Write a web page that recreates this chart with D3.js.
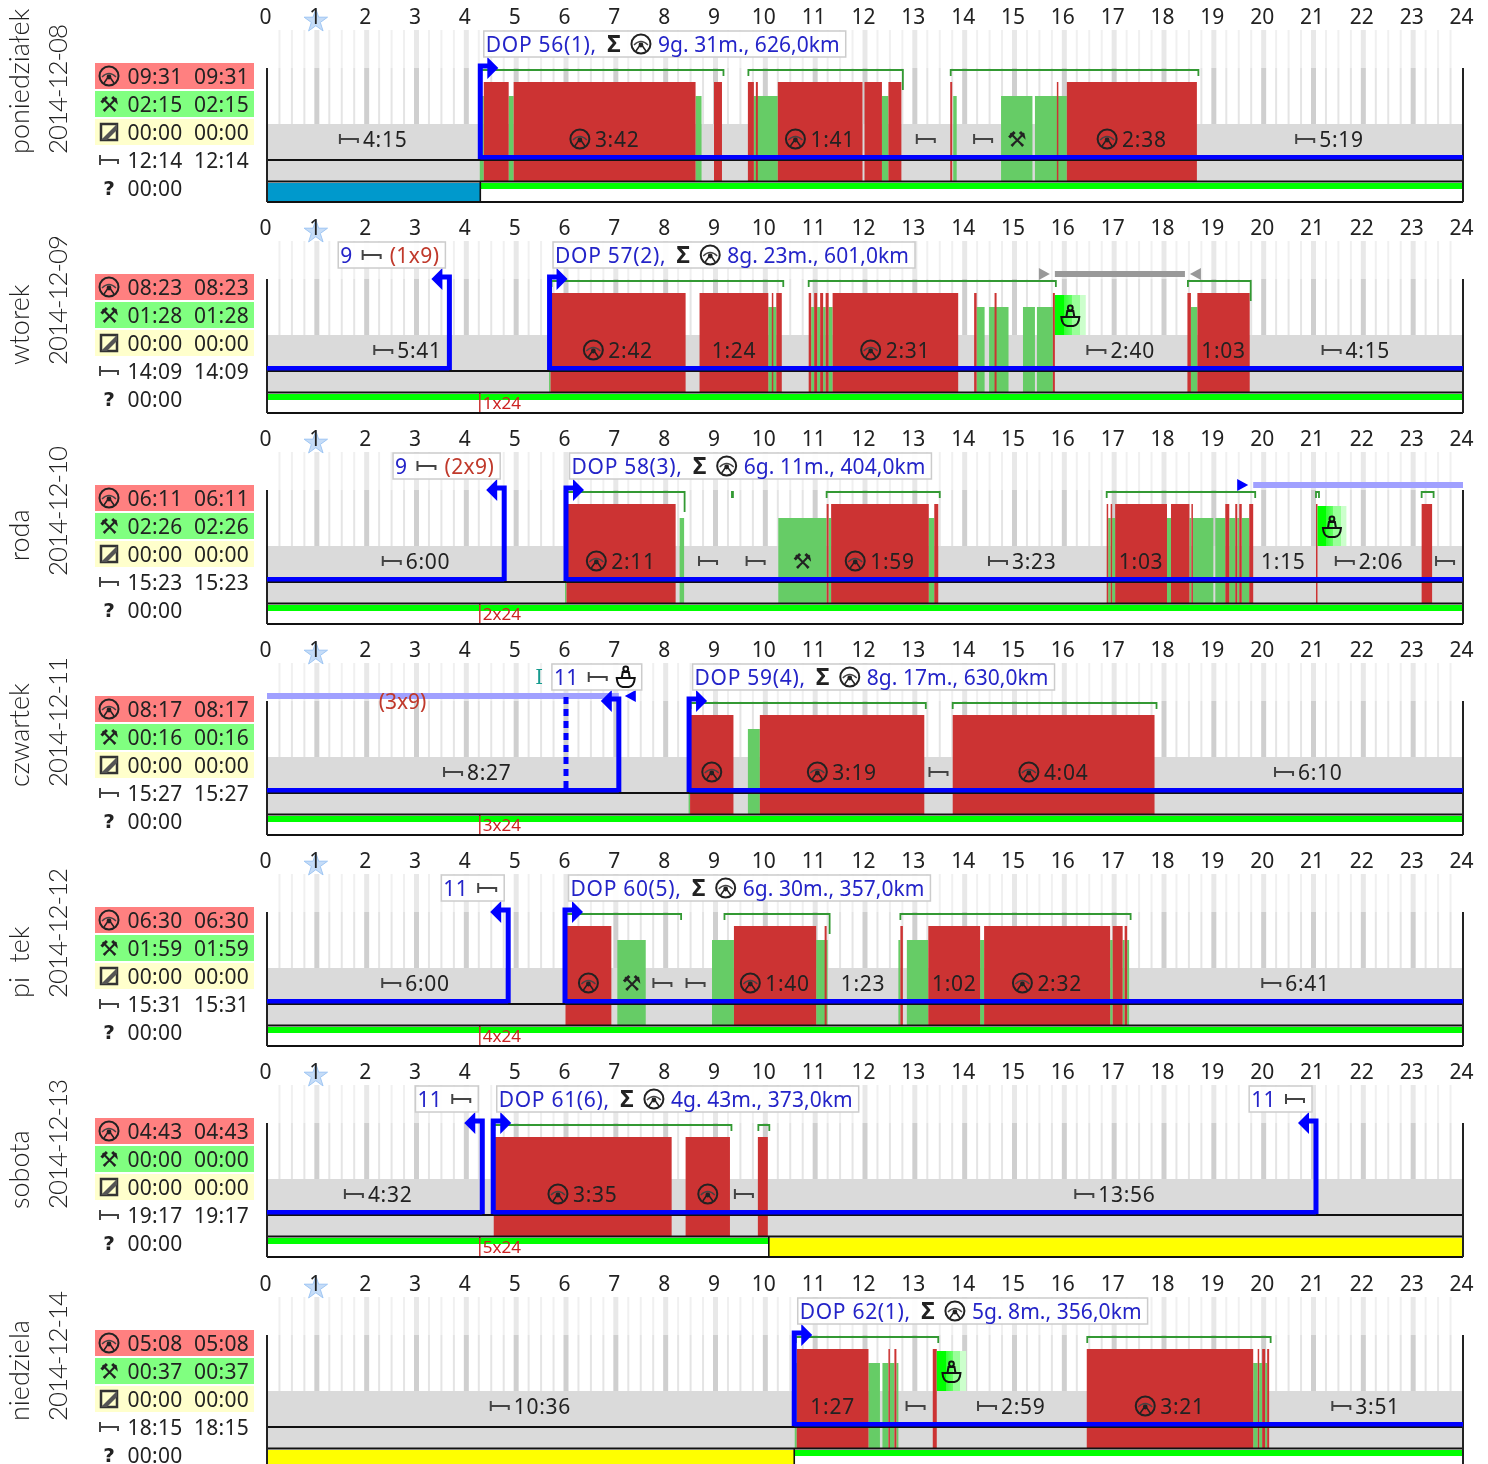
<!DOCTYPE html>
<html>
<head>
<meta charset="utf-8">
<script src="https://cdn.jsdelivr.net/npm/d3@7"></script>
<style>
html, body { margin: 0; padding: 0; background: #fff; overflow: hidden; }
svg { display: block; filter: blur(0.4px); }
text { font-family: "Noto Sans", sans-serif; font-size: 21px; fill: #222; }
</style>
</head>
<body>
<svg id="chart" width="1488" height="1464"></svg>
<script>
var dayNames = ["poniedziałek", "wtorek", "\u00a0\u00a0roda", "czwartek", "pi\u00a0\u00a0tek", "sobota", "niedziela"];
var dayDates = ["2014-12-08", "2014-12-09", "2014-12-10", "2014-12-11", "2014-12-12", "2014-12-13", "2014-12-14"];
var hourLabels = d3.range(0, 25);

// totals on the left: drive, work, other, rest, unknown
var driveTotals = ["09:31", "08:23", "06:11", "08:17", "06:30", "04:43", "05:08"];
var workTotals = ["02:15", "01:28", "02:26", "00:16", "01:59", "00:00", "00:37"];
var otherTotals = ["00:00", "00:00", "00:00", "00:00", "00:00", "00:00", "00:00"];
var restTotals = ["12:14", "14:09", "15:23", "15:27", "15:31", "19:17", "18:15"];
var unknownTotals = ["00:00", "00:00", "00:00", "00:00", "00:00", "00:00", "00:00"];

// all spans in hours of the day
var driveSpans = [
    [[4.35,4.85],[4.95,8.60],[8.97,9.13],[9.65,9.77],[9.81,9.85],[10.25,11.95],[11.99,12.34],[12.47,12.73],[13.71,13.75],[15.85,15.88],[16.05,18.66]],
    [[5.69,8.40],[8.68,10.06],[10.13,10.16],[10.22,10.33],[10.87,10.92],[10.98,11.04],[11.10,11.16],[11.21,11.27],[11.35,13.87],[14.19,14.24],[14.60,14.64],[15.77,15.81],[18.47,18.54],[18.67,19.72]],
    [[6.01,8.20],[11.23,11.27],[11.32,13.28],[13.39,13.47],[16.85,16.88],[16.93,16.96],[17.02,18.06],[18.14,18.51],[18.55,18.58],[19.23,19.31],[19.43,19.47],[19.51,19.56],[19.71,19.79],[21.05,21.08],[23.17,23.38]],
    [[8.49,9.36],[9.89,13.19],[13.76,17.81]],
    [[5.99,6.91],[9.37,11.02],[11.19,11.23],[12.71,12.76],[13.27,14.31],[14.39,16.92],[16.97,17.17],[17.21,17.26]],
    [[4.55,8.12],[8.40,9.29],[9.85,10.05]],
    [[10.63,12.07],[12.47,12.50],[12.59,12.63],[13.36,13.44],[16.45,19.79],[19.88,19.91],[19.97,20.03],[20.07,20.11]]
];
var workSpans = [
    [[4.27,4.35],[4.85,4.95],[8.60,8.72],[9.77,10.25],[12.34,12.47],[13.77,13.84],[14.73,15.36],[15.41,16.05]],
    [[5.66,5.69],[10.06,10.22],[10.92,10.98],[11.04,11.10],[11.16,11.21],[11.27,11.35],[14.24,14.40],[14.49,14.88],[15.17,15.41],[15.45,15.77],[18.54,18.67]],
    [[5.98,6.01],[8.28,8.37],[10.26,11.23],[11.27,11.32],[13.28,13.39],[16.88,16.93],[16.96,17.02],[18.06,18.14],[18.51,18.55],[18.58,18.99],[19.03,19.23],[19.31,19.43],[19.47,19.51],[19.56,19.71]],
    [[8.46,8.49],[9.65,9.89]],
    [[7.03,7.60],[8.93,9.37],[11.02,11.25],[12.67,12.71],[12.84,13.27],[14.31,14.39],[16.92,16.97],[17.17,17.21],[17.26,17.30]],
    [],
    [[10.59,10.63],[12.07,12.30],[12.35,12.47],[12.50,12.59],[12.63,12.67],[19.79,19.88],[19.91,19.97],[20.03,20.07]]
];
// brackets: start, end, 1 when the right leg runs long
var brackets = [
    [[4.30,9.16,0],[9.66,12.76,1],[13.72,18.69,0]],
    [[5.71,10.36,0],[10.87,15.83,0],[18.48,19.74,1]],
    [[6.00,8.38,1],[9.33,9.35,0],[11.23,13.50,0],[16.85,19.83,0],[21.05,21.11,0],[23.17,23.41,0]],
    [[8.50,13.22,0],[13.76,17.85,0]],
    [[5.99,8.31,0],[9.18,11.29,1],[12.71,17.33,0]],
    [[4.56,9.32,0],[9.86,10.08,0]],
    [[10.61,13.47,0],[16.46,20.14,0]]
];
var mealBreaks = [[], [[15.81,16.43]], [[21.08,21.66]], [], [], [], [[13.44,14.03]]];

// span labels: start, end, icon, text
var spanLabels = [
    [[0,4.28,"bed","4:15"],[4.95,8.60,"wheel","3:42"],[10.25,11.95,"wheel","1:41"],[12.73,13.71,"bed",""],[13.84,14.90,"bed",""],[14.73,15.36,"hammer",""],[16.05,18.66,"wheel","2:38"],[18.66,24,"bed","5:19"]],
    [[0,5.66,"bed","5:41"],[5.69,8.40,"wheel","2:42"],[8.68,10.06,"","1:24"],[11.35,13.87,"wheel","2:31"],[15.81,18.47,"bed","2:40"],[18.67,19.72,"","1:03"],[19.72,24,"bed","4:15"]],
    [[0,6.00,"bed","6:00"],[6.01,8.20,"wheel","2:11"],[8.37,9.33,"bed",""],[9.35,10.26,"bed",""],[10.26,11.23,"hammer",""],[11.32,13.28,"wheel","1:59"],[13.47,16.86,"bed","3:23"],[17.02,18.06,"","1:03"],[19.79,21.0,"","1:15"],[21.08,23.17,"bed","2:06"],[23.38,23.9,"bed",""]],
    [[0,8.46,"bed","8:27"],[8.49,9.36,"wheel",""],[9.89,13.19,"wheel","3:19"],[13.19,13.76,"bed",""],[13.76,17.81,"wheel","4:04"],[17.81,24,"bed","6:10"]],
    [[0,5.98,"bed","6:00"],[5.99,6.91,"wheel",""],[7.03,7.60,"hammer",""],[7.60,8.27,"bed",""],[8.27,8.93,"bed",""],[9.37,11.02,"wheel","1:40"],[11.25,12.67,"","1:23"],[13.27,14.31,"","1:02"],[14.39,16.92,"wheel","2:32"],[17.30,24,"bed","6:41"]],
    [[0,4.48,"bed","4:32"],[4.55,8.12,"wheel","3:35"],[8.40,9.29,"wheel",""],[9.29,9.85,"bed",""],[10.05,24,"bed","13:56"]],
    [[0,10.59,"bed","10:36"],[10.63,12.07,"","1:27"],[12.67,13.36,"bed",""],[13.44,16.45,"bed","2:59"],[16.45,19.79,"wheel","3:21"],[20.11,24,"bed","3:51"]]
];

// heavy blue line
var blueRuns = [
    [[4.28,24]],
    [[0,3.66],[5.67,24]],
    [[0,4.76],[6.00,24]],
    [[0,7.06],[8.47,24]],
    [[0,4.84],[5.98,24]],
    [[0,4.32],[4.54,21.05]],
    [[10.58,24]]
];
var shiftStarts = [[4.28],[5.67],[6.00],[8.47],[5.98],[4.54],[10.58]];
var shiftEnds = [[],[3.66],[4.76],[7.06],[4.84],[4.32,21.05],[]];

var dopTexts = ["DOP 56(1),", "DOP 57(2),", "DOP 58(3),", "DOP 59(4),", "DOP 60(5),", "DOP 61(6),", "DOP 62(1),"];
var dopTotals = ["9g. 31m., 626,0km", "8g. 23m., 601,0km", "6g. 11m., 404,0km", "8g. 17m., 630,0km", "6g. 30m., 357,0km", "4g. 43m., 373,0km", "5g. 8m., 356,0km"];
// rest boxes: hour of right edge, hours, counter, bell
var restBoxes = [
    [],
    [[3.66,"9","(1x9)",0]],
    [[4.76,"9","(2x9)",0]],
    [[7.60,"11","",1]],
    [[4.84,"11","",0]],
    [[4.32,"11","",0],[21.05,"11","",0]],
    []
];
var paleRuns = [[], [], [[19.79,24]], [[0,7.06]], [], [], []];
var greyRuns = [[], [[15.81,18.42]], [], [], [], [], []];
var weekCounters = ["", "1x24", "2x24", "3x24", "4x24", "5x24", ""];
var greenStrip = [[[4.28,24]], [[0,24]], [[0,24]], [[0,24]], [[0,24]], [[0,10.07]], [[10.58,24]]];
var fillStrip = [[[0,4.28,"#0099cc"]], [], [], [], [], [[10.07,24,"#ffff00"]], [[0,10.58,"#ffff00"]]];

var svg = d3.select("#chart");
var x = d3.scaleLinear().domain([0, 24]).range([267, 1463]);
var panelY = d3.scaleLinear().domain([0, 6]).range([0, 1267]);

var defs = svg.append("defs");
var grad = defs.append("linearGradient").attr("id", "meal");
[[0,"#00ff00"],[0.3,"#00ff00"],[0.3,"#33ff33"],[0.55,"#66ff66"],[0.55,"#99ff99"],[0.8,"#99ff99"],[0.8,"#ccffcc"],[1,"#ccffcc"]].forEach(function(s) {
    grad.append("stop").attr("offset", s[0]).attr("stop-color", s[1]);
});

function drawIcon(g, name, cx, cy) {
    var ic = g.append("g").attr("transform", "translate(" + cx + "," + cy + ")");
    if (name == "wheel") {
        ic.append("circle").attr("r", 9.5).attr("fill", "none").attr("stroke", "#222").attr("stroke-width", 2);
        ic.append("path").attr("d", "M-7,1 Q0,-6 7,1").attr("fill", "none").attr("stroke", "#444").attr("stroke-width", 1.4);
        ic.append("circle").attr("cy", 1).attr("r", 2.4).attr("fill", "#222");
        ic.append("path").attr("d", "M-1.5,2 L-5,7 M1.5,2 L5,7").attr("stroke", "#222").attr("stroke-width", 1.5);
    } else if (name == "bed") {
        ic.append("path").attr("d", "M-9,-5 V5 M-9,0 H9 V4").attr("fill", "none").attr("stroke", "#444").attr("stroke-width", 2);
    } else if (name == "hammer") {
        ic.append("text").attr("text-anchor", "middle").attr("dy", "0.38em")
            .style("font-family", "DejaVu Sans").style("font-weight", "bold").style("font-size", "22px").text("\u2692");
    } else if (name == "box") {
        ic.append("rect").attr("x", -8).attr("y", -8).attr("width", 16).attr("height", 16)
            .attr("fill", "none").attr("stroke", "#333").attr("stroke-width", 2.5);
        ic.append("path").attr("d", "M-8,8 L8,-8 V-2 L-2,8 Z").attr("fill", "#555");
    } else if (name == "sigma") {
        ic.append("text").attr("text-anchor", "middle").attr("dy", "0.36em")
            .style("font-weight", "bold").style("font-size", "23px").text("\u03a3");
    } else if (name == "question") {
        ic.append("text").attr("text-anchor", "middle").attr("dy", "0.36em")
            .style("font-family", "DejaVu Sans").style("font-weight", "bold").style("font-size", "20px").text("?");
    } else if (name == "bell") {
        ic.append("circle").attr("cy", -8).attr("r", 2.4).attr("fill", "none").attr("stroke", "#111").attr("stroke-width", 2);
        ic.append("path").attr("d", "M-3,-5 L-4,1 H4 L3,-5 Z").attr("fill", "none").attr("stroke", "#111").attr("stroke-width", 2);
        ic.append("path").attr("d", "M-9,1 H9 Q8.5,9 3,10 H-3 Q-8.5,9 -9,1 Z").attr("fill", "none").attr("stroke", "#111").attr("stroke-width", 2);
    }
}

var iconWidths = {wheel: 20, bed: 18, hammer: 20, box: 18, sigma: 18, bell: 20};

// lays out text and icons in a row, returns the width
function tokenRow(g, tokens) {
    var cur = 0;
    tokens.forEach(function(t) {
        if (t.icon) {
            var w = iconWidths[t.icon];
            drawIcon(g, t.icon, cur + w / 2, 0);
            cur += w + (t.gap || 7);
        } else {
            var el = g.append("text").attr("x", cur).attr("dy", "0.38em")
                .style("fill", t.fill).style("letter-spacing", (t.spread || 0.4) + "px").text(t.text);
            cur += el.node().getComputedTextLength() + (t.gap || 7);
        }
    });
    return cur - 7;
}

// row inside a white box; anchored at its left or right edge
function boxedRow(g, xEdge, yMid, tokens, anchorRight) {
    var box = g.append("g");
    var rect = box.append("rect");
    var inner = box.append("g").attr("transform", "translate(2,0)");
    var w = tokenRow(inner, tokens) + 8;
    rect.attr("x", 0).attr("y", -13).attr("width", w).attr("height", 26)
        .attr("fill", "#fff").attr("fill-opacity", 0.9).attr("stroke", "#ccc").attr("stroke-width", 1.5);
    box.attr("transform", "translate(" + (anchorRight ? xEdge - w : xEdge) + "," + yMid + ")");
}

function spanRects(g, spans, top, bottom, fill) {
    g.selectAll(null).data(spans).enter().append("rect")
        .attr("x", function(d) { return x(d[0]); })
        .attr("width", function(d) { return x(d[1]) - x(d[0]); })
        .attr("y", top)
        .attr("height", bottom - top)
        .attr("fill", fill);
}

function drawLegend(g, i) {
    var rows = [
        {icon: "wheel", bg: "#ff8080", vals: [driveTotals[i], driveTotals[i]]},
        {icon: "hammer", bg: "#80ff80", vals: [workTotals[i], workTotals[i]]},
        {icon: "box", bg: "#ffffcc", vals: [otherTotals[i], otherTotals[i]]},
        {icon: "bed", vals: [restTotals[i], restTotals[i]]},
        {icon: "question", vals: [unknownTotals[i]]}
    ];
    rows.forEach(function(r, k) {
        var cy = 76 + k * 28;
        if (r.bg) {
            g.append("rect").attr("x", 95).attr("y", cy - 13).attr("width", 159).attr("height", 26).attr("fill", r.bg);
        }
        drawIcon(g, r.icon, 109, cy);
        r.vals.forEach(function(v, n) {
            g.append("text").attr("x", 127.5 + n * 66.5).attr("y", cy).attr("dy", "0.38em")
                .style("letter-spacing", "0.3px").text(v);
        });
    });
}

function drawDay(i) {
    var g = svg.append("g").attr("transform", "translate(0," + Math.floor(panelY(i)) + ")");

    // day and date
    g.append("text").attr("transform", "translate(29,154) rotate(-90)")
        .style("font-family", "Lato, sans-serif").style("font-weight", 300).style("font-size", "27px").text(dayNames[i]);
    g.append("text").attr("transform", "translate(67,154) rotate(-90)")
        .style("font-family", "Lato, sans-serif").style("font-weight", 300).style("font-size", "26px")
        .style("letter-spacing", "-1.1px").text(dayDates[i]);

    drawLegend(g, i);

    // quarter hour ticks, upper part paler
    var quarters = d3.range(0, 24.01, 0.25).filter(function(h) { return h > 0 && h < 24; });
    g.selectAll(null).data(quarters).enter().append("line")
        .attr("x1", function(d) { return x(d); })
        .attr("x2", function(d) { return x(d); })
        .attr("y1", 30).attr("y2", 68)
        .attr("stroke", function(d) { return d % 1 == 0 ? "#e8e8e8" : "#f0f0f0"; })
        .attr("stroke-width", function(d) { return d % 1 == 0 ? 5 : 2; });
    g.selectAll(null).data(quarters).enter().append("line")
        .attr("x1", function(d) { return x(d); })
        .attr("x2", function(d) { return x(d); })
        .attr("y1", 68).attr("y2", 125)
        .attr("stroke", function(d) { return d % 1 == 0 ? "#cfcfcf" : "#e4e4e4"; })
        .attr("stroke-width", function(d) { return d % 1 == 0 ? 5 : 2; });

    // hour axis
    g.append("path").attr("d", d3.symbol().type(d3.symbolStar).size(170)())
        .attr("transform", "translate(" + (x(1) - 1) + ",21)")
        .attr("fill", "#c5dcf7").attr("stroke", "#9fc6f3");
    var axis = g.append("g").attr("transform", "translate(-2,24)")
        .call(d3.axisTop(x).tickValues(hourLabels).tickFormat(d3.format("d")).tickSize(0).tickPadding(0));
    axis.select(".domain").remove();
    axis.selectAll("text").style("font-size", "21px");

    g.append("rect").attr("x", x(0)).attr("y", 124).attr("width", x(24) - x(0)).attr("height", 57).attr("fill", "#dadada");

    spanRects(g, workSpans[i], 96, 181, "#66cc66");
    spanRects(g, driveSpans[i], 82, 181, "#cc3333");
    spanRects(g, mealBreaks[i], 84, 124, "url(#meal)");

    // bottom strip
    spanRects(g, greenStrip[i], 183, 189, "#00ff00");
    fillStrip[i].forEach(function(d) {
        spanRects(g, [d], 183, 201, d[2]);
        g.selectAll(null).data(d.slice(0, 2).filter(function(h) { return h > 0 && h < 24; })).enter().append("line")
            .attr("x1", function(h) { return x(h); }).attr("x2", function(h) { return x(h); })
            .attr("y1", 181).attr("y2", 202)
            .attr("stroke", "#111").attr("stroke-width", 1.6);
    });
    if (weekCounters[i]) {
        g.append("line").attr("x1", x(4.27)).attr("x2", x(4.27)).attr("y1", 182).attr("y2", 201)
            .attr("stroke", "#c33").attr("stroke-width", 1.5);
        g.append("text").attr("x", x(4.27) + 3).attr("y", 192).attr("dy", "0.35em")
            .style("font-size", "17px").style("fill", "#c22").text(weekCounters[i]);
    }

    // frame
    g.selectAll(null).data([160, 181.5, 202]).enter().append("line")
        .attr("x1", x(0)).attr("x2", x(24)).attr("y1", function(d) { return d; }).attr("y2", function(d) { return d; })
        .attr("stroke", "#111").attr("stroke-width", 2);
    g.selectAll(null).data([0, 24]).enter().append("line")
        .attr("x1", function(d) { return x(d); }).attr("x2", function(d) { return x(d); })
        .attr("y1", 68).attr("y2", 202)
        .attr("stroke", "#222").attr("stroke-width", 2);

    // brackets
    g.selectAll(null).data(brackets[i]).enter().append("path")
        .attr("d", function(d) {
            return "M" + x(d[0]) + ",76 V70 H" + x(d[1]) + " V" + (d[2] ? 90 : 76);
        })
        .attr("fill", "none").attr("stroke", "#339933").attr("stroke-width", 1.8);

    // span labels
    spanLabels[i].forEach(function(d) {
        var lab = g.append("g");
        var tokens = [];
        if (d[2]) tokens.push({icon: d[2], gap: 5});
        if (d[3]) tokens.push({text: d[3], fill: "#222", spread: 0.7});
        var w = tokenRow(lab, tokens);
        if (!d[3]) w = iconWidths[d[2]];
        lab.attr("transform", "translate(" + (x((d[0] + d[1]) / 2) - w / 2) + ",139)");
    });

    mealBreaks[i].forEach(function(d) {
        drawIcon(g, "bell", x((d[0] + d[1]) / 2), 105);
    });

    // pale and grey runs above the chart
    spanRects(g, paleRuns[i], 60, 66, "#a0a0ff");
    spanRects(g, greyRuns[i], 60, 66, "#999");
    var tri = function(px, dir, fill) {
        g.append("path").attr("d", "M" + px + ",57 L" + (px + dir * 11) + ",63 L" + px + ",69 Z").attr("fill", fill);
    };
    if (i == 1) {
        tri(x(15.81) - 16, 1, "#999");
        tri(x(18.42) + 16, -1, "#999");
    }
    if (i == 2) tri(x(19.79) - 16, 1, "#0000ff");
    if (i == 3) tri(x(7.06) + 17, -1, "#0000ff");
    if (i == 3) {
        g.append("line").attr("x1", x(6)).attr("x2", x(6)).attr("y1", 64).attr("y2", 157)
            .attr("stroke", "#0000ff").attr("stroke-width", 5).attr("stroke-dasharray", "7 5");
        g.append("text").attr("x", x(5.46)).attr("y", 44).attr("dy", "0.35em").attr("text-anchor", "middle")
            .style("font-family", "DejaVu Serif").style("font-size", "20px").style("fill", "#169b8e").text("I");
        g.append("text").attr("x", x(2.72)).attr("y", 69).attr("dy", "0.35em").attr("text-anchor", "middle")
            .style("fill", "#c0392b").text("(3x9)");
    }

    // blue line with steps
    spanRects(g, blueRuns[i], 155, 159.5, "#0000ff");
    shiftStarts[i].forEach(function(h) {
        g.append("path").attr("d", "M" + x(h) + ",159 V66 H" + (x(h) + 8)).attr("fill", "none")
            .attr("stroke", "#0000ff").attr("stroke-width", 5);
        g.append("path").attr("d", "M" + (x(h) + 7) + ",57 L" + (x(h) + 18) + ",68 L" + (x(h) + 7) + ",79 Z").attr("fill", "#0000ff");
    });
    shiftEnds[i].forEach(function(h) {
        g.append("path").attr("d", "M" + x(h) + ",159 V66 H" + (x(h) - 8)).attr("fill", "none")
            .attr("stroke", "#0000ff").attr("stroke-width", 5);
        g.append("path").attr("d", "M" + (x(h) - 7) + ",57 L" + (x(h) - 18) + ",68 L" + (x(h) - 7) + ",79 Z").attr("fill", "#0000ff");
    });

    // label boxes
    boxedRow(g, x(shiftStarts[i][0]) + 3.5, 44, [
        {text: dopTexts[i], fill: "#2424c8", gap: 8, spread: 0.7},
        {icon: "sigma", gap: 8},
        {icon: "wheel", gap: 7},
        {text: dopTotals[i], fill: "#2424c8", spread: 0.05}
    ], false);
    restBoxes[i].forEach(function(b) {
        var tokens = [{text: b[1], fill: "#2424c8", gap: 10}, {icon: "bed", gap: 9}];
        if (b[2]) tokens.push({text: b[2], fill: "#c0392b"});
        if (b[3]) tokens.push({icon: "bell"});
        boxedRow(g, x(b[0]) - 4, 44, tokens, true);
    });
}

d3.range(dayNames.length).forEach(drawDay);
</script>
</body>
</html>
